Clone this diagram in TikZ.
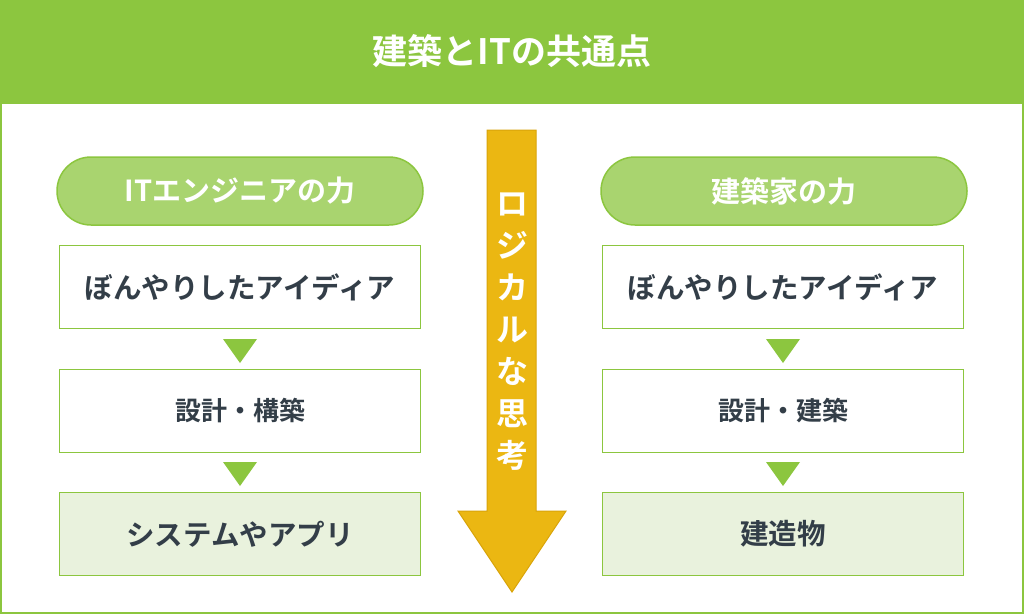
\documentclass[tikz,border=0pt]{standalone}
\usepackage{fontspec}
\newfontfamily\jp{Noto Sans CJK JP Bold}
\definecolor{gr}{HTML}{8CC63F}
\definecolor{lgr}{HTML}{A9D46F}
\definecolor{pale}{HTML}{E9F2DD}
\definecolor{txt}{HTML}{333E48}
\definecolor{ye}{HTML}{EBB712}
\definecolor{yed}{HTML}{D9A40A}
\begin{document}
\begin{tikzpicture}[x=1pt,y=-1pt,
  pill/.style={draw=gr,line width=1.5pt,fill=lgr,rounded corners=34pt,minimum width=366pt,minimum height=68pt,text=white,font=\jp\fontsize{29}{33}\selectfont},
  box/.style={draw=gr,line width=1.2pt,fill=white,minimum width=361pt,minimum height=83pt,text=txt,font=\jp\fontsize{28.5}{33}\selectfont},
  small/.style={font=\jp\fontsize{26}{30}\selectfont},
  tri/.style={fill=gr}]
\useasboundingbox (0,0) rectangle (1024,614);
\fill[white] (0,0) rectangle (1024,614);
\draw[gr,line width=2pt] (1,103) rectangle (1023,613);
\fill[gr] (0,0) rectangle (1024,103);
\node[text=white,font=\jp\fontsize{35}{40}\selectfont] (title) at (512,51) {建築とITの共通点};
% arrow
\draw[yed,fill=ye,line width=1pt] (487,130) -- (536,130) -- (536,511) -- (566,511) -- (512,592) -- (458,511) -- (487,511) -- cycle;
\node[text=white,font=\jp\fontsize{32}{42}\selectfont,align=center] (arr) at (512,332) {ロ\\ジ\\カ\\ル\\な\\思\\考};
% left
\node[pill] (lp) at (240,191) {ITエンジニアの力};
\node[box] (l1) at (240,287) {ぼんやりしたアイディア};
\node[box,small] (l2) at (240,411) {設計・構築};
\node[box,fill=pale] (l3) at (240,534) {システムやアプリ};
\node[box,fill=pale] (r3) at (783,534) {建造物};
\node[pill] (rp) at (784,191) {建築家の力};
\node[box] (r1) at (783,287) {ぼんやりしたアイディア};
\node[box,small] (r2) at (783,411) {設計・建築};
\foreach \x/\y in {240/339,240/462,783/339,783/462}
  \fill[gr] (\x-17,\y) -- (\x+17,\y) -- (\x,\y+24) -- cycle;
\end{tikzpicture}
\end{document}
